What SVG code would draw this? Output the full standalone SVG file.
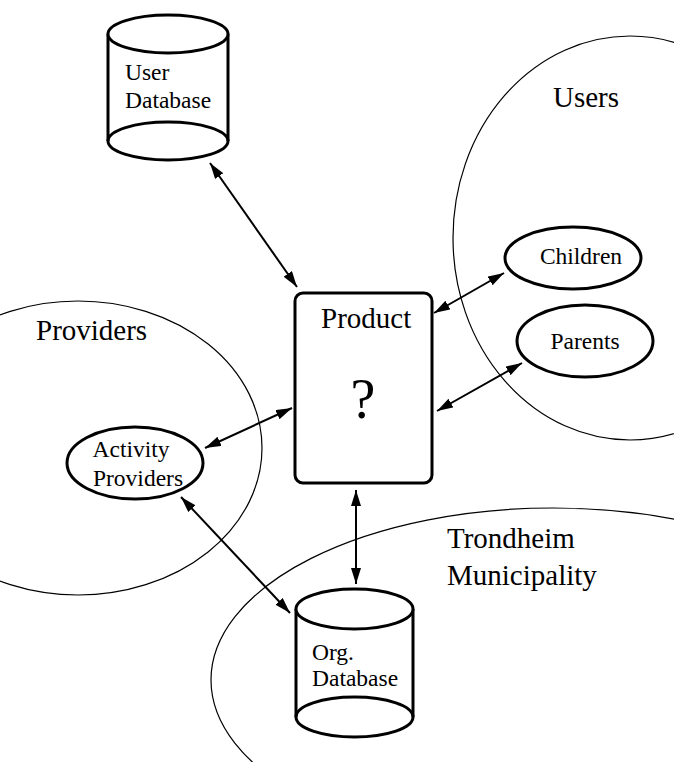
<svg xmlns="http://www.w3.org/2000/svg" width="674" height="762" viewBox="0 0 674 762" font-family="'Liberation Serif', 'Times New Roman', serif">
<defs>
<marker id="ah" viewBox="0 0 16 10" refX="16" refY="5" markerWidth="16" markerHeight="10" markerUnits="userSpaceOnUse" orient="auto-start-reverse">
<path d="M0,0 L16,5 L0,10 Z" fill="#000"/>
</marker>
</defs>
<style>
.region{fill:none;stroke:#000;stroke-width:1.2}
.node{fill:#fff;stroke:#000;stroke-width:3}
.conn{fill:none;stroke:#000;stroke-width:2;marker-start:url(#ah);marker-end:url(#ah)}
text{font-family:'Liberation Serif','Times New Roman',serif;fill:#000}
.big{font-size:29px}
.mid{font-size:23.5px}
</style>
<rect width="674" height="762" fill="#fff"/>
<g id="regions">
<g id="users-region"><ellipse class="region" cx="630" cy="238" rx="177" ry="202"/><text class="big" x="553" y="107">Users</text></g>
<g id="providers-region"><ellipse class="region" cx="78" cy="448" rx="184" ry="147"/><text class="big" x="36" y="340">Providers</text></g>
<g id="trondheim-region"><ellipse class="region" cx="553" cy="680" rx="342" ry="172"/><text class="big" x="447" y="548">Trondheim</text><text class="big" x="447" y="585">Municipality</text></g>
</g>
<g id="connectors">
<line class="conn" x1="210" y1="163" x2="297" y2="287"/>
<line class="conn" x1="434" y1="313" x2="504" y2="273"/>
<line class="conn" x1="437" y1="411" x2="522" y2="363"/>
<line class="conn" x1="292" y1="408" x2="205" y2="448"/>
<line class="conn" x1="356" y1="490" x2="356" y2="584"/>
<line class="conn" x1="181" y1="497" x2="290" y2="613"/>
</g>
<g id="user-db">
<path class="node" d="M108,34 L108,141 A60,19 0 0 0 228,141 L228,34"/>
<ellipse class="node" cx="168" cy="34" rx="60" ry="19"/>
<path fill="none" stroke="#000" stroke-width="3" d="M108,141 A60,19 0 0 1 228,141"/>
<text class="mid" x="125" y="80">User</text>
<text class="mid" x="125" y="108">Database</text>
</g>
<g id="product">
<rect class="node" x="295" y="293" width="137" height="190" rx="8"/>
<text class="big" x="321" y="328">Product</text>
<text x="363" y="418" font-size="56" text-anchor="middle">?</text>
</g>
<g id="children">
<ellipse class="node" cx="573" cy="258" rx="68" ry="31"/>
<text class="mid" x="581" y="264" text-anchor="middle">Children</text>
</g>
<g id="parents">
<ellipse class="node" cx="585" cy="341" rx="68" ry="36"/>
<text class="mid" x="585" y="349" text-anchor="middle">Parents</text>
</g>
<g id="activity-providers">
<ellipse class="node" cx="135" cy="463" rx="68" ry="36"/>
<text class="mid" x="131" y="457" text-anchor="middle">Activity</text>
<text class="mid" x="138" y="486" text-anchor="middle">Providers</text>
</g>
<g id="org-db">
<path class="node" d="M296,609 L296,717 A58.5,20 0 0 0 413,717 L413,609"/>
<ellipse class="node" cx="354.5" cy="609" rx="58.5" ry="20"/>
<path fill="none" stroke="#000" stroke-width="3" d="M296,717 A58.5,20 0 0 1 413,717"/>
<text class="mid" x="312" y="660">Org.</text>
<text class="mid" x="312" y="686">Database</text>
</g>
</svg>
